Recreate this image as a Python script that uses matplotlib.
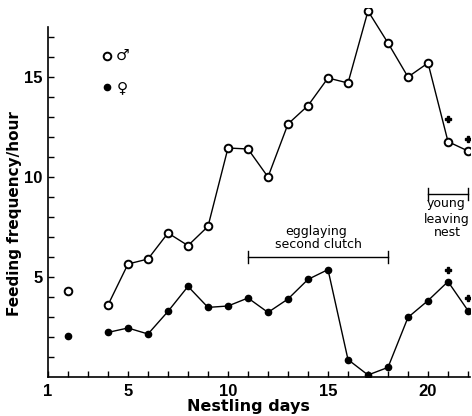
import matplotlib
matplotlib.use("Agg")
import matplotlib.pyplot as plt
from matplotlib.ticker import MultipleLocator, FixedLocator

plt.rcParams['font.family'] = ['Liberation Sans', 'DejaVu Sans']

# Data
male_days_iso = [2]
male_vals_iso = [4.3]
male_days = [4, 5, 6, 7, 8, 9, 10, 11, 12, 13, 14, 15, 16, 17, 18, 19, 20, 21, 22]
male_vals = [3.6, 5.65, 5.9, 7.2, 6.57, 7.53, 11.45, 11.4, 10.0, 12.65, 13.57, 14.95,
             14.7, 18.3, 16.7, 15.0, 15.7, 11.77, 11.3]
female_days_iso = [2]
female_vals_iso = [2.03]
female_days = [4, 5, 6, 7, 8, 9, 10, 11, 12, 13, 14, 15, 16, 17, 18, 19, 20, 21, 22]
female_vals = [2.23, 2.45, 2.15, 3.28, 4.53, 3.48, 3.55, 3.95, 3.23, 3.9, 4.88, 5.37,
               0.87, 0.1, 0.48, 2.98, 3.82, 4.77, 3.32]
plus_days = [21, 22]
plus_male = [12.9, 11.9]
plus_female = [5.37, 3.93]
xtick_labels = ['1', '5', '10', '15', '20']
xtick_pos = [1, 5, 10, 15, 20]
ytick_pos = [5, 10, 15]

fig = plt.figure(figsize=(4.72, 4.16), dpi=100)
ax = fig.add_axes([48 / 472, 39 / 416, 422 / 472, (416 - 39 - 8) / 416])
ax.set_xlim(1, 22.1)
ax.set_ylim(0, 18.45)

lw = 1.0
open_kw = dict(marker='o', ms=5.5, mfc='white', mec='black', mew=1.4)
fill_kw = dict(marker='o', ms=4.5, mfc='black', mec='black')
ax.plot(male_days, male_vals, color='black', lw=lw, zorder=3, **open_kw)
ax.plot(male_days_iso, male_vals_iso, ls='none', zorder=3, **open_kw)
ax.plot(female_days, female_vals, color='black', lw=lw, zorder=3, **fill_kw)
ax.plot(female_days_iso, female_vals_iso, ls='none', zorder=3, **fill_kw)
ax.plot(plus_days, plus_male, ls='none', marker='P', ms=4.5, color='black', zorder=3)
ax.plot(plus_days, plus_female, ls='none', marker='P', ms=4.5, color='black', zorder=3)

# legend symbols
ax.plot([3.95], [16.05], ls='none', **open_kw)
ax.plot([3.95], [14.5], ls='none', **fill_kw)
ax.text(4.72, 16.1, '♂', fontsize=11, ha='center', va='center', family=['DejaVu Sans'], fontweight='bold')
ax.text(4.72, 14.45, '♀', fontsize=11, ha='center', va='center', family=['DejaVu Sans'], fontweight='bold')

# brackets
def bracket(x0, x1, y, h=0.3):
    ax.plot([x0, x1], [y, y], color='black', lw=1.0)
    ax.plot([x0, x0], [y - h, y + h], color='black', lw=1.0)
    ax.plot([x1, x1], [y - h, y + h], color='black', lw=1.0)

ann_kw = dict(ha='center', va='center', fontsize=9, family=['DejaVu Sans'])
bracket(11, 18, 6.0)
ax.text(14.4, 7.27, 'egglaying', **ann_kw)
ax.text(14.5, 6.65, 'second clutch', **ann_kw)
bracket(20, 22, 9.15)
ax.text(20.9, 8.65, 'young', **ann_kw)
ax.text(20.95, 7.9, 'leaving', **ann_kw)
ax.text(20.95, 7.25, 'nest', **ann_kw)

# spines & ticks
for s in ['top', 'right']:
    ax.spines[s].set_visible(False)
ax.spines['left'].set_bounds(0, 17.5)
ax.spines['bottom'].set_bounds(1, 22.1)
ax.spines['left'].set_linewidth(1.2)
ax.spines['bottom'].set_linewidth(1.2)

ax.xaxis.set_major_locator(FixedLocator(xtick_pos))
ax.set_xticklabels(xtick_labels)
ax.xaxis.set_minor_locator(MultipleLocator(1))
ax.yaxis.set_major_locator(FixedLocator(ytick_pos))
ax.set_yticklabels([str(v) for v in ytick_pos])
ax.yaxis.set_minor_locator(FixedLocator([v for v in range(1, 18) if v % 5 != 0]))
ax.tick_params(which='both', direction='in', length=4, width=1.0)
ax.tick_params(axis='x', which='major', length=4, pad=5)
ax.tick_params(axis='y', which='major', length=4, pad=4)
for lab in ax.get_xticklabels() + ax.get_yticklabels():
    lab.set_fontweight('bold')
    lab.set_fontsize(12)

fig.text(248 / 472, 1 - 407 / 416, 'Nestling days', fontsize=11.5, fontweight='bold',
         ha='center', va='center', family=['DejaVu Sans'])
fig.text(15 / 472, 1 - 214 / 416, 'Feeding frequency/hour', fontsize=11, fontweight='bold',
         ha='center', va='center', rotation=90, family=['DejaVu Sans'])

fig.savefig('out.png', dpi=100)
